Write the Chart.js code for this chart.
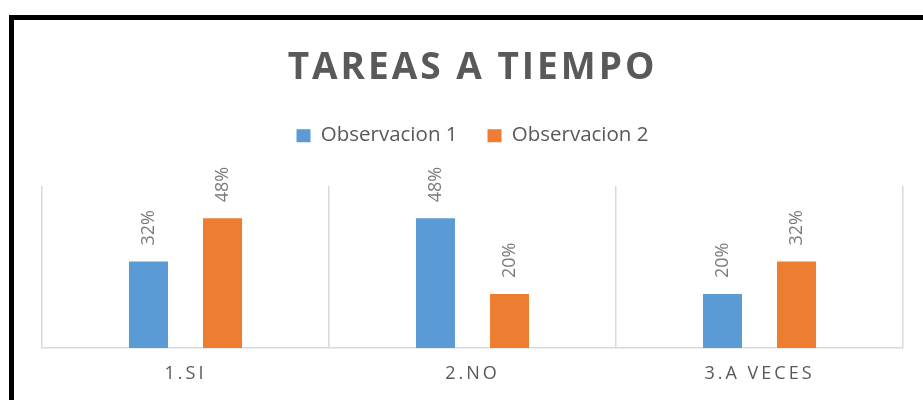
<!DOCTYPE html>
<html>
<head>
<meta charset="utf-8">
<script src="https://cdn.jsdelivr.net/npm/chart.js@4"></script>
<style>
  html, body { margin: 0; padding: 0; background: #fff; }
  #frame {
    position: absolute; left: 9px; top: 15px; width: 1000px; height: 500px;
    border-left: 5px solid #000; border-top: 5px solid #000;
  }
  #wrap { position: absolute; left: 0; top: 0; width: 923px; height: 400px; }
</style>
</head>
<body>
<div id="frame"></div>
<div id="wrap"><canvas id="chart" width="923" height="400"></canvas></div>
<script>
// chart data
const categories = ['1.SI', '2.NO', '3.A VECES'];
const observacion1 = [0.32, 0.48, 0.20];
const observacion2 = [0.48, 0.20, 0.32];
const seriesNames = ['Observacion 1', 'Observacion 2'];

const FONT = "'Open Sans', sans-serif";
const TEXT = '#595959';

// extra room under the legend + letter spaced title/ticks
const layoutTweaks = {
    id: 'layoutTweaks',
    beforeInit(chart) {
        const fit = chart.legend.fit;
        chart.legend.fit = function () {
            fit.call(this);
            this.height += 30;
        };
    },
    beforeDraw(chart) {
        const ctx = chart.ctx;
        const t = chart.titleBlock;
        if (t && !t._spaced) {
            const draw = t.draw;
            t.draw = function () {
                ctx.save();
                ctx.letterSpacing = '3px';
                draw.apply(this, arguments);
                ctx.restore();
            };
            t._spaced = true;
        }
        const x = chart.scales.x;
        if (x && !x._spaced) {
            const drawLabels = x.drawLabels;
            x.drawLabels = function () {
                ctx.save();
                ctx.letterSpacing = '3px';
                drawLabels.apply(this, arguments);
                ctx.restore();
            };
            x._spaced = true;
        }
    }
};

// rotated percentage labels above bars
const barLabels = {
    id: 'barLabels',
    afterDatasetsDraw(chart) {
        const ctx = chart.ctx;
        ctx.save();
        ctx.font = '18px ' + FONT;
        ctx.fillStyle = '#7a7a7a';
        ctx.textAlign = 'left';
        ctx.textBaseline = 'middle';
        chart.data.datasets.forEach((ds, i) => {
            chart.getDatasetMeta(i).data.forEach((bar, j) => {
                ctx.save();
                ctx.translate(bar.x, bar.y - 16);
                ctx.rotate(-Math.PI / 2);
                ctx.fillText(Math.round(ds.data[j] * 100) + '%', 0, 0);
                ctx.restore();
            });
        });
        ctx.restore();
    }
};

new Chart(document.getElementById('chart'), {
    type: 'bar',
    data: {
        labels: categories,
        datasets: [
            { label: seriesNames[0], data: observacion1, backgroundColor: '#5B9BD5' },
            { label: seriesNames[1], data: observacion2, backgroundColor: '#ED7D31' }
        ]
    },
    options: {
        responsive: false,
        animation: false,
        categoryPercentage: 0.516,
        barPercentage: 0.527,
        layout: { padding: { left: 42, right: 20, top: 20, bottom: 0 } },
        scales: {
            x: {
                grid: { color: '#D9D9D9', lineWidth: 1.5, drawTicks: false, offset: true },
                border: { color: '#D9D9D9', width: 1.5 },
                ticks: { color: TEXT, font: { family: FONT, size: 18, lineHeight: 1 }, padding: 17 }
            },
            y: { display: false, min: 0, max: 0.6 }
        },
        plugins: {
            title: {
                display: true,
                text: 'TAREAS A TIEMPO',
                color: TEXT,
                font: { family: FONT, size: 37, weight: 'bold' },
                padding: { top: 26, bottom: 5 }
            },
            legend: {
                labels: {
                    color: TEXT,
                    font: { family: FONT, size: 20.5 },
                    boxWidth: 14,
                    boxHeight: 13,
                    padding: 30
                }
            },
            tooltip: { enabled: false }
        }
    },
    plugins: [layoutTweaks, barLabels]
});
</script>
</body>
</html>
